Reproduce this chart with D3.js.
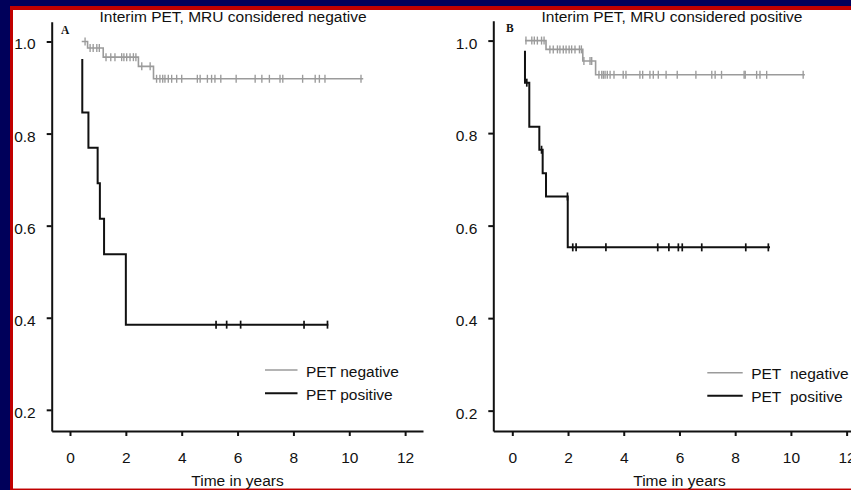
<!DOCTYPE html>
<html>
<head>
<meta charset="utf-8">
<script src="https://cdn.jsdelivr.net/npm/d3@7"></script>
<style>
  html, body { margin: 0; padding: 0; background: #00005a; }
  svg { display: block; }
  .axis path, .axis line { stroke: #111; stroke-width: 2; }
  .axis text { font-family: "Liberation Sans", Arial, sans-serif; font-size: 15.5px; fill: #111; }
</style>
</head>
<body>
<div id="chart"></div>
<script>
// tick values shared by both panels
const timeTicks = [0, 2, 4, 6, 8, 10, 12];
const survTicks = [0.2, 0.4, 0.6, 0.8, 1.0];

// Panel A - MRU considered negative
// steps are [time, survival]; the curve holds each value until the next step
const aNegSteps = [[0.42, 1.0], [0.63, 0.986], [1.19, 0.966], [2.45, 0.946], [2.99, 0.919]];
const aNegEnd = 10.5;
const aNegCensored = [0.54, 0.72, 0.83, 0.96, 1.05, 1.29, 1.46, 1.61, 1.85, 1.93, 2.03, 2.15, 2.27, 2.36,
  2.57, 2.87, 3.10, 3.22, 3.32, 3.40, 3.52, 3.64, 3.82, 4.0, 4.56, 4.66, 4.92, 5.07, 5.19, 5.40,
  5.95, 6.63, 6.87, 7.14, 7.52, 7.62, 8.33, 8.78, 8.93, 9.13, 10.42];

const aPosSteps = [[0.44, 0.962], [0.44, 0.846], [0.66, 0.769], [0.99, 0.692], [1.07, 0.615], [1.22, 0.538], [2.0, 0.385]];
const aPosEnd = 9.25;
const aPosCensored = [5.23, 5.61, 6.11, 8.38, 9.22];

// Panel B - MRU considered positive
const bNegSteps = [[0.455, 1.0], [1.21, 0.981], [2.53, 0.956], [2.99, 0.926]];
const bNegEnd = 10.5;
const bNegCensored = [0.49, 0.70, 0.79, 0.90, 1.05, 1.14, 1.35, 1.47, 1.62, 1.71, 1.83, 1.93, 2.04, 2.13,
  2.25, 2.41, 2.48, 2.57, 2.79, 2.85, 3.11, 3.21, 3.27, 3.33, 3.41, 3.51, 3.65, 3.98, 4.08, 4.58,
  4.68, 4.94, 5.06, 5.24, 5.52, 5.92, 6.59, 7.16, 7.28, 7.51, 8.32, 8.36, 8.77, 8.89, 9.13, 10.44];

const bPosSteps = [[0.455, 0.978], [0.455, 0.909], [0.61, 0.814], [0.97, 0.764], [1.09, 0.713], [1.21, 0.663], [1.99, 0.553]];
const bPosEnd = 9.25;
const bPosCensored = [0.52, 1.05, 1.98, 2.17, 2.29, 3.36, 5.22, 5.62, 5.96, 6.10, 6.80, 8.38, 9.19];

const legendLabels = ["PET negative", "PET positive"];
const legendLabelsB = ["PET\u00a0 negative", "PET\u00a0 positive"];

const W = 851, H = 490;
const grey = "#9b9b9b", black = "#111";

const svg = d3.select("#chart")
  .append("svg")
  .attr("width", W)
  .attr("height", H);

// the slide frame: navy, red line, white page
svg.append("rect").attr("width", W).attr("height", H).attr("fill", "#00005a");
svg.append("rect").attr("x", 10).attr("y", 6).attr("width", W - 10).attr("height", H - 6).attr("fill", "#c00000");
svg.append("rect").attr("x", 13).attr("y", 10).attr("width", W - 13).attr("height", H - 12).attr("fill", "#fff");
svg.append("line").attr("x1", 13).attr("x2", W).attr("y1", 488.5).attr("y2", 488.5)
  .attr("stroke", "#e08a8a").attr("stroke-width", 1.2);

function survAt(steps, t) {
  let s = steps[0][1];
  steps.forEach(d => { if (d[0] <= t) s = d[1]; });
  return s;
}

function drawPanel(p) {
  const x = d3.scaleLinear().domain(p.xDomain).range(p.xRange);
  const y = d3.scaleLinear().domain(p.yDomain).range(p.yRange);
  const g = svg.append("g");

  // y axis
  g.append("g")
    .attr("class", "axis")
    .attr("transform", `translate(${p.xRange[0]},0)`)
    .call(d3.axisLeft(y).tickValues(survTicks).tickFormat(d3.format(".1f"))
      .tickSizeInner(5).tickSizeOuter(0).tickPadding(11))
    .selectAll("text").attr("dy", "0.48em");

  // x axis
  g.append("g")
    .attr("class", "axis")
    .attr("transform", `translate(0,${p.yRange[0]})`)
    .call(d3.axisBottom(x).tickValues(timeTicks).tickFormat(d3.format("d"))
      .tickSizeInner(5).tickSizeOuter(0).tickPadding(16));

  const line = d3.line()
    .x(d => x(d[0]))
    .y(d => y(d[1]))
    .curve(d3.curveStepAfter);

  p.curves.forEach(c => {
    const pts = c.steps.concat([[c.end, c.steps[c.steps.length - 1][1]]]);
    g.append("path")
      .attr("d", line(pts))
      .attr("fill", "none")
      .attr("stroke", c.color)
      .attr("stroke-width", c.width);

    g.selectAll(null)
      .data(c.censored)
      .enter()
      .append("line")
      .attr("x1", d => x(d))
      .attr("x2", d => x(d))
      .attr("y1", d => y(survAt(c.steps, d)) - 4)
      .attr("y2", d => y(survAt(c.steps, d)) + 4)
      .attr("stroke", c.color)
      .attr("stroke-width", c.width * 0.85);
  });

  // title and panel letter
  g.append("text")
    .attr("x", p.titleX).attr("y", 22)
    .attr("text-anchor", "middle")
    .style("font-family", "Liberation Sans, Arial, sans-serif")
    .style("font-size", "15.5px")
    .attr("fill", "#111")
    .text(p.title);

  g.append("text")
    .attr("x", p.letterX).attr("y", p.letterY)
    .style("font-family", "Liberation Serif, Times New Roman, serif")
    .style("font-weight", "bold")
    .style("font-size", "11.5px")
    .attr("fill", "#111")
    .text(p.letter);

  // x axis title
  g.append("text")
    .attr("x", x(6)).attr("y", 486)
    .attr("text-anchor", "middle")
    .style("font-family", "Liberation Sans, Arial, sans-serif")
    .style("font-size", "15.5px")
    .attr("fill", "#111")
    .text("Time in years");

  // legend
  const leg = g.selectAll(".leg")
    .data(p.curves)
    .enter()
    .append("g")
    .attr("transform", (d, i) => `translate(${p.legendX},${p.legendY + i * p.legendGap})`);
  leg.append("line")
    .attr("x1", 0).attr("x2", p.legendLine)
    .attr("stroke", d => d.color)
    .attr("stroke-width", d => d.width);
  leg.append("text")
    .attr("x", p.legendLine + 8.5).attr("y", 6.5)
    .style("font-family", "Liberation Sans, Arial, sans-serif")
    .style("font-size", "15.5px")
    .attr("fill", "#111")
    .text((d, i) => p.labels[i]);
}

drawPanel({
  xDomain: [-0.655, 12.64], xRange: [51.7, 423],
  yDomain: [0.154, 1.043], yRange: [431, 21.7],
  title: "Interim PET, MRU considered negative", titleX: 233,
  letter: "A", letterX: 61, letterY: 34.3,
  legendX: 265, legendY: 370, legendGap: 23.3, legendLine: 32.5,
  labels: legendLabels,
  curves: [
    { steps: aNegSteps, end: aNegEnd, censored: aNegCensored, color: grey, width: 1.6 },
    { steps: aPosSteps, end: aPosEnd, censored: aPosCensored, color: black, width: 2 }
  ]
});

drawPanel({
  xDomain: [-0.682, 12.48], xRange: [493.3, 860],
  yDomain: [0.156, 1.043], yRange: [431, 20.7],
  title: "Interim PET, MRU considered positive", titleX: 672,
  letter: "B", letterX: 506, letterY: 32.3,
  legendX: 707.3, legendY: 372.7, legendGap: 23, legendLine: 35.4,
  labels: legendLabelsB,
  curves: [
    { steps: bNegSteps, end: bNegEnd, censored: bNegCensored, color: grey, width: 1.6 },
    { steps: bPosSteps, end: bPosEnd, censored: bPosCensored, color: black, width: 2 }
  ]
});
</script>
</body>
</html>
